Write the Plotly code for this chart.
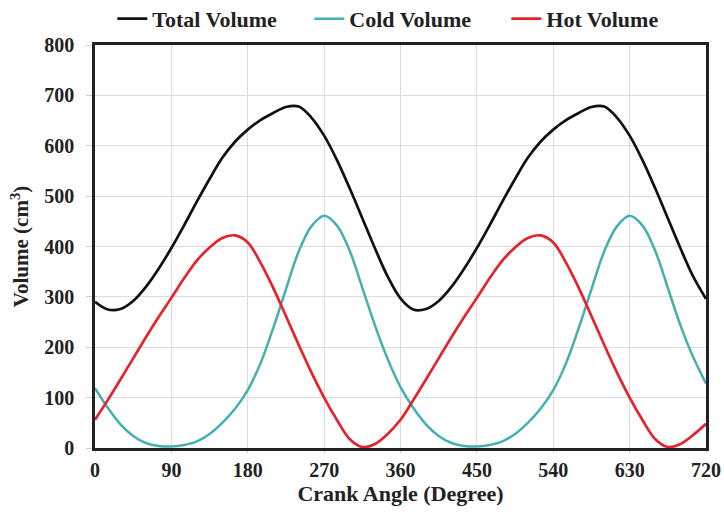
import plotly.graph_objects as go

crank_angle = [0, 15, 30, 45, 60, 75, 90, 105, 120, 135, 150, 165, 180, 195, 210, 225, 240,
               255, 270, 285, 300, 315, 330, 345, 360, 375, 390, 405, 420, 435, 450, 465, 480,
               495, 510, 525, 540, 555, 570, 585, 600, 615, 630, 645, 660, 675, 690, 705, 720]

total_volume = [290, 275, 276, 292, 320, 356, 397, 442, 489, 534, 576, 608, 632, 651, 665, 677, 678,
                656, 620, 572, 516, 456, 396, 340, 297, 275, 276, 292, 320, 356, 397, 442, 489,
                534, 576, 608, 632, 651, 665, 677, 678, 656, 620, 572, 516, 456, 396, 340, 296]

cold_volume = [119, 80, 47, 24, 10, 4, 3, 6, 13, 28, 50, 78, 115, 168, 238, 315, 390,
               440, 461, 442, 392, 318, 243, 176, 121, 80, 47, 24, 10, 4, 3, 6, 13,
               28, 50, 78, 115, 168, 238, 315, 390, 440, 461, 442, 392, 318, 243, 180, 128]

hot_volume = [56, 95, 136, 178, 220, 260, 298, 337, 372, 398, 417, 422, 408, 368, 318, 262, 205,
              150, 100, 56, 18, 2, 8, 28, 56, 95, 136, 178, 220, 260, 298, 337, 372,
              398, 417, 422, 408, 368, 318, 262, 205, 150, 100, 56, 18, 2, 8, 26, 48]

x_ticks = [0, 90, 180, 270, 360, 450, 540, 630, 720]
y_ticks = [0, 100, 200, 300, 400, 500, 600, 700, 800]

FONT = "Liberation Serif"
TXT = "#222222"

fig = go.Figure()
fig.add_trace(go.Scatter(x=crank_angle, y=total_volume, mode="lines", name="<b>Total Volume</b>",
                         line=dict(color="#111111", width=2.7, shape="spline", smoothing=1.0)))
fig.add_trace(go.Scatter(x=crank_angle, y=cold_volume, mode="lines", name="<b>Cold Volume</b>",
                         line=dict(color="#45B0B0", width=2.5, shape="spline", smoothing=1.0)))
fig.add_trace(go.Scatter(x=crank_angle, y=hot_volume, mode="lines", name="<b>Hot Volume</b>",
                         line=dict(color="#E5232D", width=2.7, shape="spline", smoothing=1.0)))

fig.update_layout(
    width=724, height=514,
    margin=dict(l=95, r=18, t=45, b=66, autoexpand=False),
    paper_bgcolor="white", plot_bgcolor="white",
    font=dict(family=FONT, size=20, color=TXT),
    showlegend=True,
    legend=dict(orientation="h", x=0.512, xanchor="center", y=1.117, yanchor="top",
                font=dict(family=FONT, size=22, color=TXT),
                entrywidth=152, entrywidthmode="pixels",
                tracegroupgap=0, bgcolor="rgba(0,0,0,0)"),
    xaxis=dict(range=[0, 720], tickvals=x_ticks, ticktext=[f"<b>{v}</b>" for v in x_ticks],
               tickfont=dict(family=FONT, size=20, color=TXT), automargin=False,
               showgrid=True, gridcolor="#dcdcdc", gridwidth=1,
               showline=True, linecolor="#222222", linewidth=2.5, mirror=True,
               ticks="outside", ticklen=2, tickcolor="#d0d0d0", ticklabelstandoff=0,
               zeroline=False,
               title=dict(text="<b>Crank Angle (Degree)</b>", standoff=2,
                          font=dict(family=FONT, size=22, color=TXT))),
    yaxis=dict(range=[0, 800], tickvals=y_ticks, ticktext=[f"<b>{v}</b>" for v in y_ticks],
               tickfont=dict(family=FONT, size=20, color=TXT), automargin=False,
               showgrid=True, gridcolor="#dcdcdc", gridwidth=1,
               showline=True, linecolor="#222222", linewidth=2.5, mirror=True,
               ticks="outside", ticklen=6, tickcolor="#d0d0d0", ticklabelstandoff=8,
               zeroline=False,
               title=dict(text="<b>Volume (cm<sup>3</sup>)</b>", standoff=10,
                          font=dict(family=FONT, size=21, color=TXT))),
)

fig.write_html("out.html", config={"displayModeBar": False},
               post_script="document.body.style.margin='0px';")
